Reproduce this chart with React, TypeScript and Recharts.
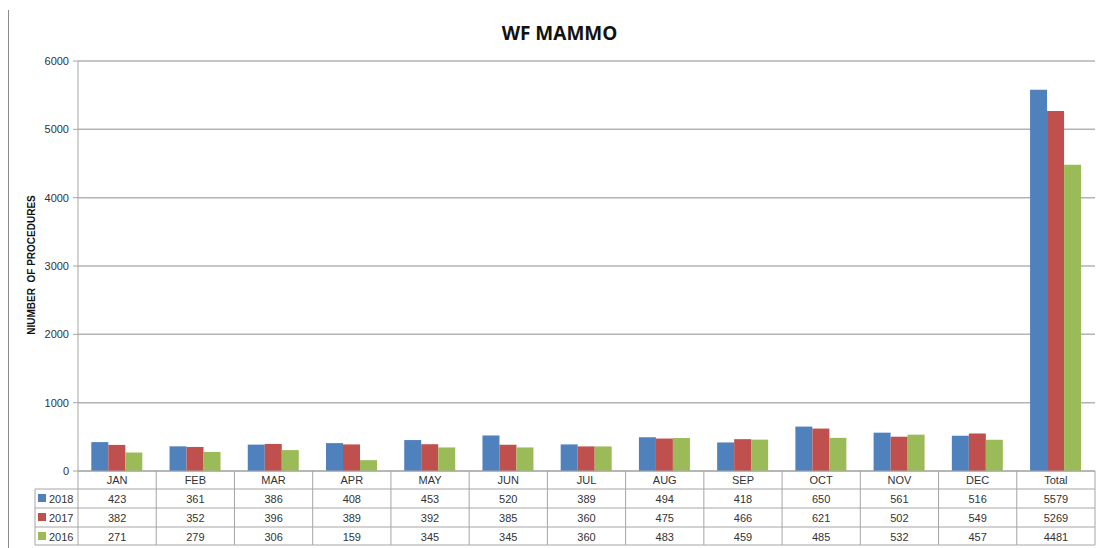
import { Bar, BarChart, CartesianGrid, XAxis, YAxis } from 'recharts';

const categories = ['JAN', 'FEB', 'MAR', 'APR', 'MAY', 'JUN', 'JUL', 'AUG', 'SEP', 'OCT', 'NOV', 'DEC', 'Total'];
const y2018 = [423, 361, 386, 408, 453, 520, 389, 494, 418, 650, 561, 516, 5579];
const y2017 = [382, 352, 396, 389, 392, 385, 360, 475, 466, 621, 502, 549, 5269];
const y2016 = [271, 279, 306, 159, 345, 345, 360, 483, 459, 485, 532, 457, 4481];
const yTicks = [0, 1000, 2000, 3000, 4000, 5000, 6000];

const series = [
  { key: '2018', values: y2018, color: '#4F81BD' },
  { key: '2017', values: y2017, color: '#C0504D' },
  { key: '2016', values: y2016, color: '#9BBB59' },
];

const data = categories.map((c, i) => ({
  name: c,
  '2018': y2018[i],
  '2017': y2017[i],
  '2016': y2016[i],
}));

const FONT = '"Liberation Sans", Arial, sans-serif';
const LINE = '#a6a6a6';
const W = 1097;
const LEFT = 78;
const RIGHT = 2;
const BAND = (W - LEFT - RIGHT) / categories.length;
const ROW_H = [18, 19, 19, 18];

function TableTick(props: any) {
  const { x, y, index, payload } = props;
  const left = x - BAND / 2;
  const right = x + BAND / 2;
  const tops = [y, y + ROW_H[0], y + ROW_H[0] + ROW_H[1], y + ROW_H[0] + ROW_H[1] + ROW_H[2]];
  const bottom = tops[3] + ROW_H[3];
  return (
    <g fontFamily={FONT} fontSize={11} fill="#333">
      <line x1={right} x2={right} y1={y} y2={bottom} stroke={LINE} />
      {index === 0 && <line x1={left} x2={left} y1={y} y2={bottom} stroke={LINE} />}
      {tops.slice(1).map((t, r) => (
        <line key={r} x1={index === 0 ? left - 43 : left} x2={right} y1={t} y2={t} stroke={LINE} />
      ))}
      <line x1={index === 0 ? left - 43 : left} x2={right} y1={bottom} y2={bottom} stroke={LINE} />
      <text x={x} y={tops[0] + 13} textAnchor="middle">{payload.value}</text>
      {series.map((s, r) => (
        <text key={s.key} x={x} y={tops[r + 1] + 14} textAnchor="middle">
          {s.values[index]}
        </text>
      ))}
      {index === 0 && (
        <g>
          <line x1={left - 43} x2={left - 43} y1={tops[1]} y2={bottom} stroke={LINE} />
          {series.map((s, r) => (
            <g key={s.key}>
              <rect x={left - 40} y={tops[r + 1] + 5} width={8} height={8} fill={s.color} />
              <text x={left - 29} y={tops[r + 1] + 14}>{s.key}</text>
            </g>
          ))}
        </g>
      )}
    </g>
  );
}

export default function App() {
  return (
    <div style={{ position: 'absolute', left: 0, top: 0, width: W, height: 548, background: '#fff' }}>
      <div style={{ position: 'absolute', left: 8, top: 10, width: 1, height: 538, background: '#8c8c8c' }} />
      <div
        style={{
          position: 'absolute',
          left: 0,
          width: W,
          top: 20,
          textAlign: 'center',
          fontFamily: '"Open Sans", sans-serif',
          fontWeight: 700,
          fontSize: 19,
          color: '#111',
          paddingLeft: 22,
          boxSizing: 'border-box',
        }}
      >
        WF MAMMO
      </div>
      <div
        style={{
          position: 'absolute',
          left: 31,
          top: 265,
          transform: 'translate(-50%, -50%) rotate(-90deg)',
          whiteSpace: 'pre',
          fontFamily: FONT,
          fontWeight: 700,
          fontSize: 10,
          color: '#111',
        }}
      >
        NIUMBER  OF PROCEDURES
      </div>
      <BarChart
        width={W}
        height={548}
        data={data}
        margin={{ top: 61, right: RIGHT, bottom: 0, left: 0 }}
        barCategoryGap="17%"
        barGap={0}
      >
        <CartesianGrid vertical={false} stroke="#b3b3b3" strokeWidth={1.5} />
        <XAxis
          dataKey="name"
          height={77}
          interval={0}
          tickLine={false}
          tickSize={0}
          tickMargin={0}
          axisLine={{ stroke: LINE }}
          tick={<TableTick />}
        />
        <YAxis
          width={LEFT}
          domain={[0, 6000]}
          ticks={yTicks}
          tickSize={5}
          tickMargin={4}
          axisLine={{ stroke: LINE }}
          tickLine={{ stroke: LINE }}
          tick={{ fontFamily: FONT, fontSize: 11, fill: '#333' }}
        />
        {series.map((s) => (
          <Bar key={s.key} dataKey={s.key} fill={s.color} isAnimationActive={false} />
        ))}
      </BarChart>
    </div>
  );
}
